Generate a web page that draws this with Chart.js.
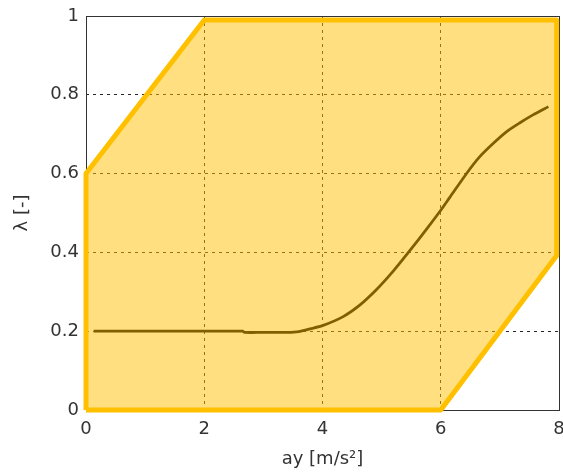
<!DOCTYPE html>
<html lang="en">
<head>
  <meta charset="UTF-8" />
  <title>lambda vs ay</title>
  <script src="https://cdn.jsdelivr.net/npm/chart.js"></script>
  <style>
    body { margin: 0; background: #fff; }
    #wrap { width: 563px; height: 472px; }
  </style>
</head>
<body>
  <div id="wrap"><canvas id="chart"></canvas></div>

  <script>
    // operating region (closed polygon)
    const regionX = [0, 0, 2, 7.96, 7.96, 6, 0];
    const regionY = [0, 0.6, 0.99, 0.99, 0.392, 0, 0];

    // lambda curve
    const curveX = [0.13, 1, 2, 2.65, 2.68, 3.0, 3.4, 3.6, 3.79, 4.0, 4.35, 4.63, 4.91, 5.2, 5.48, 5.76, 6.0, 6.15, 6.44, 6.66, 6.89, 7.11, 7.34, 7.56, 7.82];
    const curveY = [0.2, 0.2, 0.2, 0.2, 0.197, 0.197, 0.197, 0.199, 0.206, 0.214, 0.237, 0.266, 0.305, 0.353, 0.405, 0.459, 0.507, 0.539, 0.601, 0.643, 0.677, 0.706, 0.729, 0.749, 0.770];

    const xTicks = [0, 2, 4, 6, 8];
    const yTicks = [0, 0.2, 0.4, 0.6, 0.8, 1];

    const toPts = (xs, ys) => xs.map((x, i) => ({ x: x, y: ys[i] }));

    const frame = {
      id: 'frame',
      beforeDatasetsDraw(chart) {
        const a = chart.chartArea, c = chart.ctx;
        c.save();
        c.strokeStyle = '#333';
        c.lineWidth = 1;
        c.strokeRect(Math.round(a.left) + 0.5, Math.round(a.top) + 0.5,
                     Math.round(a.right - a.left), Math.round(a.bottom - a.top));
        c.restore();
      }
    };

    const font = { family: 'DejaVu Sans', size: 18 };

    new Chart(document.getElementById('chart'), {
      type: 'scatter',
      data: {
        datasets: [
          {
            data: toPts(curveX, curveY),
            order: 0,
            showLine: true,
            fill: false,
            borderColor: '#7F6000',
            borderWidth: 2.8,
            pointRadius: 0,
            tension: 0.25
          },
          {
            data: toPts(regionX, regionY),
            order: 1,
            showLine: true,
            fill: 'shape',
            backgroundColor: 'rgba(255, 192, 0, 0.5)',
            borderColor: '#FFC000',
            borderWidth: 5,
            pointRadius: 0,
            tension: 0,
            borderJoinStyle: 'round',
            clip: 8
          }
        ]
      },
      plugins: [frame],
      options: {
        responsive: true,
        maintainAspectRatio: false,
        animation: false,
        layout: { padding: { top: 16, right: 4, left: 0, bottom: 0 } },
        plugins: { legend: { display: false }, tooltip: { enabled: false } },
        scales: {
          x: {
            type: 'linear',
            min: 0, max: 8,
            afterBuildTicks: s => { s.ticks = xTicks.map(v => ({ value: v })); },
            afterFit: s => { s.height = 62; s.paddingLeft = 0; s.paddingRight = 0; },
            border: { display: false, dash: [3, 4] },
            grid: { color: 'rgba(0,0,0,0.85)', drawTicks: false, lineWidth: 1 },
            ticks: { color: '#333', font: font, padding: 9 },
            title: { display: true, text: 'ay [m/s²]', color: '#333', font: font, padding: { top: 6, bottom: 2 } }
          },
          y: {
            type: 'linear',
            min: 0, max: 1,
            afterBuildTicks: s => { s.ticks = yTicks.map(v => ({ value: v })); },
            afterFit: s => { s.width = 86; s.paddingTop = 0; s.paddingBottom = 0; },
            border: { display: false, dash: [3, 4] },
            grid: { color: 'rgba(0,0,0,0.85)', drawTicks: false, lineWidth: 1 },
            ticks: { color: '#333', font: font, padding: 7, callback: v => String(v) },
            title: { display: true, text: 'λ [-]', color: '#333', font: font, padding: { top: 12, bottom: 0 } }
          }
        }
      }
    });
  </script>
</body>
</html>
